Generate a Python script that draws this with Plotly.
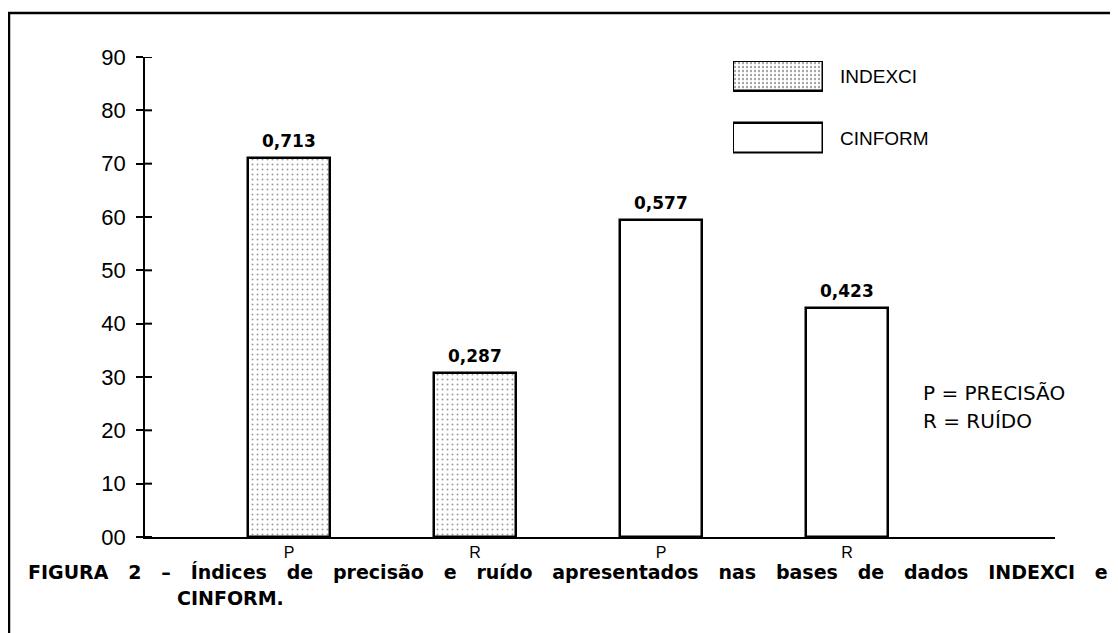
import plotly.graph_objects as go

# ---------------- data ----------------
categories = ["P", "R", "P", "R"]
series_names = ["INDEXCI", "CINFORM"]
indexci_values = [71.1, 30.8]
cinform_values = [59.4, 42.9]
indexci_labels = ["0,713", "0,287"]
cinform_labels = ["0,577", "0,423"]
y_tick_values = [0, 10, 20, 30, 40, 50, 60, 70, 80, 90]
y_tick_labels = ["00", "10", "20", "30", "40", "50", "60", "70", "80", "90"]
key_lines = ["P = PRECISÃO", "R = RUÍDO"]
caption_line1 = "FIGURA 2 – Índices de precisão e ruído apresentados nas bases de dados INDEXCI e"
caption_line2 = "CINFORM."

# ---------------- layout geometry ----------------
# the page body has an 8px margin, so the figure is drawn 8px smaller
# and every reference pixel position is shifted by OFF
OFF = 8
W, H = 1118 - OFF, 633 - OFF
L, R, T, B = 145 - OFF, 63, 57 - OFF, 96
PW, PH = W - L - R, H - T - B


def px(x):
    return (x - OFF - L) / PW


def py(y):
    return (H - B - (y - OFF)) / PH


positions = list(range(len(categories)))
idx_pos = positions[:2]
cin_pos = positions[2:]

stipple = dict(shape=".", fgcolor="#3a3a3a", bgcolor="white", size=5, solidity=0.12)

fig = go.Figure()
fig.add_trace(go.Bar(
    x=idx_pos, y=indexci_values, name=series_names[0], width=0.44,
    marker=dict(color="white", pattern=stipple, line=dict(color="black", width=2.5)),
    showlegend=False, hoverinfo="skip"))
fig.add_trace(go.Bar(
    x=cin_pos, y=cinform_values, name=series_names[1], width=0.44,
    marker=dict(color="white", line=dict(color="black", width=2.5)),
    showlegend=False, hoverinfo="skip"))

# legend swatches drawn on a hidden axis pair
fig.add_trace(go.Bar(
    y=[1], x=[1], orientation="h", width=0.49, xaxis="x2", yaxis="y2",
    marker=dict(color="white", pattern=dict(shape=".", fgcolor="#3a3a3a", bgcolor="white", size=4, solidity=0.25),
                line=dict(color="black", width=2.5)),
    showlegend=False, hoverinfo="skip"))
fig.add_trace(go.Bar(
    y=[0], x=[1], orientation="h", width=0.49, xaxis="x2", yaxis="y2",
    marker=dict(color="white", line=dict(color="black", width=2.5)),
    showlegend=False, hoverinfo="skip"))

annotations = []
for xpos, val, lab in zip(idx_pos + cin_pos, indexci_values + cinform_values, indexci_labels + cinform_labels):
    annotations.append(dict(x=xpos, y=val, text=lab, showarrow=False, yshift=17, yanchor="middle",
                            font=dict(family="DejaVu Sans", size=17, color="black", weight="bold")))

# legend texts
annotations.append(dict(xref="paper", yref="paper", x=px(838), y=py(77), text=series_names[0],
                        xanchor="left", yanchor="middle", showarrow=False,
                        font=dict(family="Liberation Sans", size=19, color="black")))
annotations.append(dict(xref="paper", yref="paper", x=px(838), y=py(139), text=series_names[1],
                        xanchor="left", yanchor="middle", showarrow=False,
                        font=dict(family="Liberation Sans", size=19, color="black")))
# key
for i, line in enumerate(key_lines):
    annotations.append(dict(xref="paper", yref="paper", x=px(921), y=py(393 + 28 * i), text=line,
                            xanchor="left", yanchor="middle", showarrow=False,
                            font=dict(family="DejaVu Sans", size=20, color="black")))
# caption (justified look: wider word gaps)
gap = " \u00a0\u00a0"
annotations.append(dict(xref="paper", yref="paper", x=px(26), y=py(572), text=gap.join(caption_line1.split(" ")),
                        xanchor="left", yanchor="middle", showarrow=False,
                        font=dict(family="DejaVu Sans", size=19, color="black", weight="bold")))
annotations.append(dict(xref="paper", yref="paper", x=px(175), y=py(598), text=caption_line2,
                        xanchor="left", yanchor="middle", showarrow=False,
                        font=dict(family="DejaVu Sans", size=19, color="black", weight="bold")))

shapes = []
# frame
shapes.append(dict(type="line", xref="paper", yref="paper", x0=px(8), x1=px(1118), y0=py(13), y1=py(13),
                   line=dict(color="black", width=2.5)))
shapes.append(dict(type="line", xref="paper", yref="paper", x0=px(9), x1=px(9), y0=py(13), y1=py(633),
                   line=dict(color="black", width=2.5)))
# inner halves of the crossing y ticks
for v in y_tick_values:
    shapes.append(dict(type="line", xref="paper", yref="y", x0=0, x1=px(152), y0=v, y1=v,
                       line=dict(color="black", width=2)))

fig.update_layout(
    width=W, height=H, autosize=False,
    margin=dict(l=L, r=R, t=T, b=B, pad=0),
    paper_bgcolor="white", plot_bgcolor="white",
    annotations=annotations, shapes=shapes,
    xaxis=dict(range=[-0.774, 4.118], tickvals=positions, ticktext=categories, showgrid=False,
               zeroline=False, showline=True, linecolor="black", linewidth=2, ticks="",
               tickfont=dict(family="Liberation Sans", size=16, color="black"), fixedrange=True),
    yaxis=dict(range=[0, 90], tickvals=y_tick_values, ticktext=y_tick_labels, showgrid=False,
               zeroline=False, showline=True, linecolor="black", linewidth=1.5, ticks="outside",
               ticklen=7, tickwidth=2, tickcolor="black", ticklabelstandoff=6,
               tickfont=dict(family="Liberation Sans", size=22, color="black"), fixedrange=True),
    xaxis2=dict(domain=[px(733), px(823)], range=[0, 1], visible=False, anchor="y2", fixedrange=True),
    yaxis2=dict(domain=[py(153.4), py(61.1)], range=[-0.25, 1.25], visible=False, anchor="x2", fixedrange=True),
    bargap=0,
)

fig.write_html("out.html")
